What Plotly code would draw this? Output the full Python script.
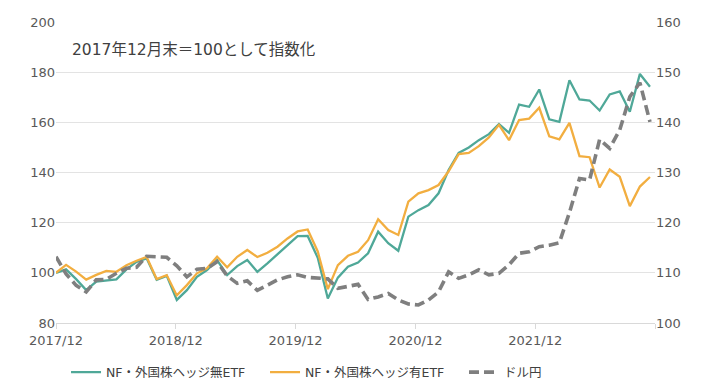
import plotly.graph_objects as go

# month index 0 = 2017/12 ... 59 = 2022/11
months = list(range(60))

hedge_free = [100, 101.4, 97.5, 93.1, 96.5, 96.9, 97.4, 101.4, 104.4, 105.8,
              97.2, 98.8, 89.2, 93.1, 98.4, 101.1, 105.1, 99.1, 102.7, 105.1,
              100.4, 103.8, 107.5, 111.1, 114.6, 114.7, 106.0, 89.8, 98.1, 102.4,
              104.1, 107.8, 116.4, 111.8, 108.8, 122.4, 125.0, 127.0, 131.7, 141.0,
              147.8, 150.0, 152.9, 155.3, 159.3, 155.8, 167.1, 166.2, 173.1, 161.2,
              160.2, 176.8, 169.1, 168.7, 164.7, 171.1, 172.3, 164.2, 179.3, 174.2]

hedged = [100, 103.2, 100.5, 97.3, 99.2, 100.8, 100.4, 103.0, 104.8, 106.3,
          97.5, 99.1, 91.0, 95.1, 99.8, 101.8, 106.4, 102.2, 106.4, 109.1,
          106.3, 108.0, 110.4, 113.7, 116.5, 117.3, 108.5, 93.5, 103.1, 106.8,
          108.4, 113.0, 121.4, 117.1, 115.1, 128.4, 131.7, 133.0, 135.0, 140.5,
          147.3, 147.8, 150.5, 154.0, 159.0, 152.9, 160.9, 161.5, 165.8, 154.4,
          153.2, 159.8, 146.5, 146.1, 134.0, 141.2, 138.3, 126.6, 134.4, 138.2]

usdjpy = [113.2, 109.8, 107.5, 106.2, 108.6, 108.7, 109.9, 110.9, 111.1, 113.3,
          113.2, 113.1, 111.4, 109.2, 110.7, 110.9, 112.2, 109.4, 107.9, 108.4,
          106.5, 107.6, 108.6, 109.2, 109.6, 109.1, 109.0, 108.8, 106.9, 107.3,
          107.7, 104.7, 105.2, 105.9, 104.6, 103.8, 103.6, 104.6, 106.2, 110.2,
          108.9, 109.6, 110.6, 109.6, 109.9, 111.6, 113.9, 114.2, 115.2, 115.5,
          116.0, 122.0, 128.8, 128.5, 136.6, 134.8, 138.5, 145.1, 147.9, 140.1]

tick_labels = ["2017/12", "2018/12", "2019/12", "2020/12", "2021/12", ""]

names = ["NF・外国株ヘッジ無ETF", "NF・外国株ヘッジ有ETF", "ドル円"]
colors = ["#4FA898", "#F2AE40", "#7F7F7F"]

FONT = "DejaVu Sans, Noto Sans CJK JP, sans-serif"
x_end = 59.5
tick_pos = [i * x_end / 5 for i in range(6)]

fig = go.Figure()
fig.add_trace(go.Scatter(x=months, y=hedge_free, name=names[0], mode="lines",
                         line=dict(color=colors[0], width=2.3)))
fig.add_trace(go.Scatter(x=months, y=hedged, name=names[1], mode="lines",
                         line=dict(color=colors[1], width=2.3)))
fig.add_trace(go.Scatter(x=months, y=usdjpy, name=names[2], mode="lines", yaxis="y2",
                         line=dict(color=colors[2], width=3.6, dash="10px,5px")))

fig.update_layout(
    width=713, height=390,
    margin=dict(l=56, r=58, t=22, b=67, autoexpand=False),
    paper_bgcolor="white", plot_bgcolor="white",
    font=dict(family=FONT, size=13, color="#595959"),
    showlegend=True,
    legend=dict(orientation="h", xref="container", yref="container",
                x=0.0926, y=0.045, xanchor="left", yanchor="middle",
                entrywidth=154, entrywidthmode="pixels",
                font=dict(size=12.5, color="#404040"),
                bgcolor="rgba(0,0,0,0)"),
    xaxis=dict(range=[0, x_end], tickvals=tick_pos, ticktext=tick_labels,
               showgrid=False, zeroline=False, showline=True, automargin=False,
               linecolor="#d9d9d9", linewidth=1, ticks="outside", ticklen=5,
               tickcolor="#d9d9d9", tickfont=dict(size=13, color="#595959")),
    yaxis=dict(range=[80, 200], dtick=20, showgrid=True, gridcolor="#e3e3e3",
               gridwidth=1, zeroline=False, showline=False, ticks="", automargin=False,
               tickfont=dict(size=13, color="#595959")),
    yaxis2=dict(range=[100, 160], dtick=10, overlaying="y", side="right",
                showgrid=False, zeroline=False, showline=False, ticks="", automargin=False,
                tickfont=dict(size=13, color="#595959")),
    annotations=[dict(text="2017年12月末＝100として指数化", xref="paper", yref="paper",
                      x=(70 - 56) / 599, y=(323 - 50) / 301, xanchor="left",
                      yanchor="middle", showarrow=False,
                      font=dict(size=15.5, color="#404040", family=FONT))],
)

fig.write_html("out.html", config={"displayModeBar": False},
               post_script="document.body.style.margin='0';document.body.style.overflow='hidden';")
